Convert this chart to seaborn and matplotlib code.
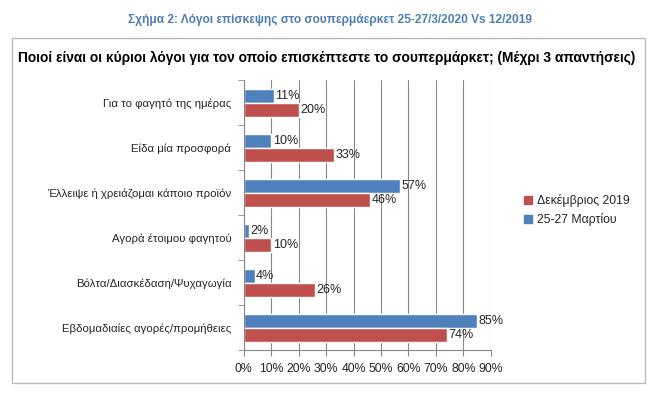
import matplotlib.pyplot as plt
import matplotlib.patches as mpatches
import seaborn as sns
import pandas as pd

categories = [
    'Για το φαγητό της ημέρας',
    'Είδα μία προσφορά',
    'Έλλειψε ή χρειάζομαι κάποιο προϊόν',
    'Αγορά έτοιμου φαγητού',
    'Βόλτα/Διασκέδαση/Ψυχαγωγία',
    'Εβδομαδιαίες αγορές/προμήθειες',
]
march = [11, 10, 57, 2, 4, 85]
december = [20, 33, 46, 10, 26, 74]
series_names = ['25-27 Μαρτίου', 'Δεκέμβριος 2019']
xticks = [0, 10, 20, 30, 40, 50, 60, 70, 80, 90]

rows = []
for cat, m, d in zip(categories, march, december):
    rows.append({'cat': cat, 'series': series_names[0], 'val': m})
    rows.append({'cat': cat, 'series': series_names[1], 'val': d})
df = pd.DataFrame(rows)

sns.set_style('white')
plt.rcParams['font.family'] = ['Liberation Sans', 'DejaVu Sans']

fig = plt.figure(figsize=(6.66, 3.97), dpi=100)
ax = fig.add_axes([0.366, 0.118, 0.371, 0.680])

palette = {series_names[0]: '#4F81BD', series_names[1]: '#C0504D'}
sns.barplot(data=df, y='cat', x='val', hue='series', hue_order=series_names,
            order=categories, palette=palette, width=0.62, orient='h',
            saturation=1, ax=ax, legend=False)

for cont in ax.containers:
    ax.bar_label(cont, labels=[f'{int(v)}%' for v in cont.datavalues],
                 padding=1, fontsize=9)

ax.set_xlim(0, 90)
ax.set_ylim(5.5, -0.5)
ax.set_xticks(xticks)
ax.set_xticklabels([f'{t}%' for t in xticks], fontsize=8.8)
ax.tick_params(axis='x', pad=5)
ax.tick_params(axis='y', labelsize=8.2, length=0, pad=9)
ax.set_yticks([i - 0.5 for i in range(7)], minor=True)
ax.tick_params(axis='y', which='minor', length=4, color='#888888', direction='out', left=True)
ax.tick_params(axis='x', length=4, color='#888888', direction='out', bottom=True)
ax.grid(axis='x', color='#888888', linewidth=0.8)
ax.set_axisbelow(True)
ax.set_xlabel('')
ax.set_ylabel('')
for s in ['top', 'right']:
    ax.spines[s].set_visible(False)
for s in ['left', 'bottom']:
    ax.spines[s].set_color('#888888')
    ax.spines[s].set_linewidth(0.8)

handles = [mpatches.Patch(color=palette[series_names[1]], label=series_names[1]),
           mpatches.Patch(color=palette[series_names[0]], label=series_names[0])]
fig.legend(handles=handles, loc='center left', bbox_to_anchor=(0.77, 0.47),
           frameon=False, fontsize=8.8, handlelength=0.7, handleheight=0.7,
           handletextpad=0.4, labelspacing=0.5)

fig.add_artist(mpatches.Rectangle((12 / 666, 1 - 383 / 397), 633 / 666, 345 / 397,
                                  transform=fig.transFigure, fill=False,
                                  edgecolor='#BBBBBB', linewidth=1))
fig.text(0.496, 1 - 20 / 397,
         'Σχήμα 2: Λόγοι επίσκεψης στο σουπερμάερκετ 25-27/3/2020 Vs 12/2019',
         ha='center', va='center', fontsize=8.6, fontweight='bold', color='#4F7FB0')
fig.text(0.491, 1 - 58 / 397,
         'Ποιοί είναι οι κύριοι λόγοι για τον οποίο επισκέπτεστε το σουπερμάρκετ; (Μέχρι 3 απαντήσεις)',
         ha='center', va='center', fontsize=9.9, fontweight='bold', color='black')

fig.savefig('out.png', dpi=100)
